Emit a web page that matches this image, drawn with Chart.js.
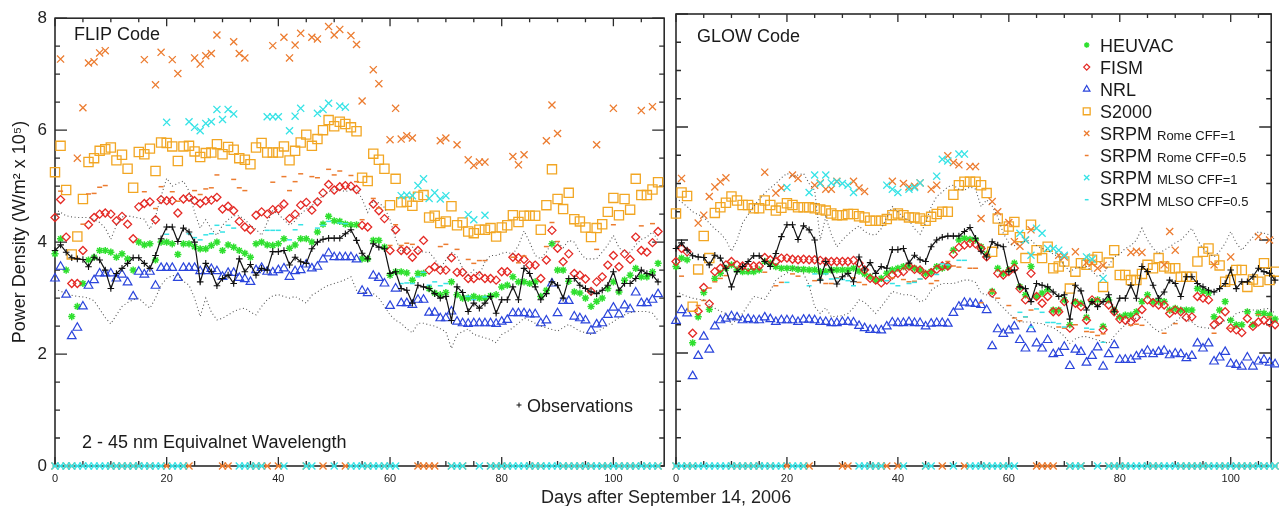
<!DOCTYPE html>
<html>
<head>
<meta charset="utf-8">
<script src="https://cdn.jsdelivr.net/npm/chart.js@4.4.1/dist/chart.umd.min.js"></script>
<style>
  body { margin: 0; background: #fff; width: 1279px; height: 506px; overflow: hidden; position: relative; font-family: "Liberation Sans", Arial, sans-serif; }
  #flip { position: absolute; left: 0; top: 0; }
  #glow { position: absolute; left: 664px; top: 0; }
  .xtitle { position: absolute; left: 541px; top: 486px; font-size: 18px; line-height: 22px; color: #222; white-space: nowrap; }
</style>
</head>
<body>
<canvas id="flip" width="672" height="506"></canvas>
<canvas id="glow" width="615" height="506"></canvas>
<div class="xtitle">Days after September 14, 2006</div>
<script>
// Days 0..108, one value per day. 0 = no SRPM input that day (plotted on the axis).
const xTicks = [0, 20, 40, 60, 80, 100];
const yTicks = [0, 2, 4, 6, 8];

const obs = [
  3.85,3.95,3.82,3.72,3.70,3.69,3.56,3.73,3.68,3.50,
  3.17,3.44,3.53,3.62,3.72,3.72,3.62,3.53,3.76,4.06,
  4.27,4.27,4.01,4.25,4.18,4.00,3.29,3.62,3.47,3.22,
  3.35,3.41,3.26,3.70,3.47,3.60,3.41,3.53,3.50,3.83,
  3.83,3.85,3.59,3.73,3.65,3.62,3.88,4.00,4.05,4.07,
  4.07,4.07,4.15,4.22,4.03,3.80,3.70,3.97,3.91,3.88,
  3.44,3.47,3.17,3.14,2.91,3.23,3.20,3.17,3.08,3.00,
  3.03,2.60,3.20,3.10,2.76,2.91,2.82,2.91,3.03,2.73,
  2.97,2.97,3.20,2.97,3.53,3.44,3.20,2.97,3.08,3.29,
  3.23,3.00,3.35,3.35,3.23,3.17,3.11,3.08,3.14,3.23,
  3.47,3.14,3.26,3.26,3.35,3.50,3.44,3.41,3.29
];

// ---- FLIP panel ----
const flipUpper = [
  4.59,4.53,4.47,4.45,4.44,4.44,4.44,4.40,4.35,4.25,
  4.05,4.30,4.45,4.47,4.45,4.43,4.41,4.23,4.45,4.82,
  5.14,5.00,5.05,5.09,4.91,4.53,4.25,4.40,4.23,4.12,
  4.30,4.40,4.47,4.47,4.40,4.30,4.23,4.12,4.35,4.56,
  4.50,4.40,4.30,4.38,4.50,4.59,4.65,4.75,4.82,4.90,
  4.94,4.94,4.90,4.94,4.94,4.77,4.53,4.74,4.70,4.62,
  4.40,4.06,3.82,3.88,3.91,3.85,3.82,3.82,3.70,3.53,
  3.68,3.82,3.75,3.53,3.41,3.50,3.41,3.65,3.76,3.76,
  3.80,3.82,3.78,3.94,4.20,4.00,3.76,3.70,3.82,4.00,
  4.00,3.90,4.03,4.00,3.82,3.70,3.70,3.70,3.82,3.95,
  4.12,3.90,3.82,3.82,3.95,4.05,4.09,4.18,4.03
];
const flipLower = [
  3.17,3.12,3.09,3.05,3.03,3.02,3.00,2.95,2.80,2.65,
  2.54,2.70,2.85,2.92,2.97,3.00,2.90,2.82,3.00,3.23,
  3.35,3.40,3.41,3.30,3.23,3.00,2.67,3.00,2.75,2.61,
  2.64,2.70,2.76,2.80,2.82,2.75,2.70,2.85,2.97,3.04,
  3.06,3.03,3.00,3.03,2.97,2.91,3.05,3.11,3.18,3.23,
  3.26,3.29,3.33,3.38,3.14,3.10,3.10,3.08,3.00,2.85,
  2.70,2.60,2.55,2.45,2.38,2.55,2.55,2.52,2.50,2.45,
  2.40,2.10,2.35,2.40,2.45,2.35,2.32,2.29,2.26,2.20,
  2.35,2.40,2.47,2.55,2.64,2.60,2.55,2.50,2.47,2.44,
  2.41,2.47,2.53,2.47,2.41,2.38,2.35,2.40,2.45,2.52,
  2.58,2.65,2.70,2.74,2.76,2.76,2.76,2.73,2.60
];
const flipHeuvac = [
  3.79,4.06,3.50,2.67,2.85,3.26,3.68,3.73,3.85,3.85,
  3.82,3.73,3.79,3.70,3.50,4.00,3.95,3.97,3.68,4.00,
  4.00,3.97,3.78,3.97,3.97,3.92,3.88,3.88,3.94,4.00,
  3.85,3.95,3.91,3.85,3.80,3.73,3.97,4.00,3.95,3.94,
  3.97,4.06,3.89,3.95,4.06,4.06,4.00,4.18,4.32,4.46,
  4.38,4.37,4.32,4.31,4.31,3.70,3.70,4.03,4.03,3.91,
  3.41,3.47,3.47,3.45,3.32,3.44,3.44,3.17,3.09,3.06,
  3.10,3.29,3.06,3.00,3.00,3.03,3.00,3.00,3.04,3.06,
  3.20,3.23,3.38,3.29,3.29,3.26,3.29,3.03,3.14,3.97,
  3.50,3.50,3.30,3.11,3.09,3.00,2.85,2.94,3.00,3.17,
  3.29,3.11,3.32,3.41,3.53,3.38,3.38,3.47,3.62
];
const flipFism = [
  4.44,4.76,4.09,3.26,3.26,3.85,4.31,4.44,4.50,4.52,
  4.50,4.38,4.46,4.32,4.06,4.63,4.69,4.72,4.40,4.76,
  4.74,4.74,4.52,4.77,4.80,4.74,4.69,4.74,4.75,4.80,
  4.59,4.64,4.56,4.37,4.27,4.22,4.48,4.54,4.50,4.58,
  4.59,4.68,4.42,4.50,4.66,4.71,4.57,4.72,4.88,5.03,
  4.93,4.99,5.01,5.00,4.94,4.30,4.27,4.68,4.56,4.42,
  3.85,4.22,3.85,3.85,3.73,3.85,4.03,3.50,3.56,3.50,
  3.50,3.72,3.46,3.46,3.35,3.35,3.40,3.35,3.35,3.32,
  3.47,3.47,3.73,3.72,3.69,3.59,3.59,3.35,3.68,4.21,
  3.89,3.65,3.79,3.44,3.41,3.34,3.12,3.29,3.38,3.59,
  3.76,3.56,3.79,3.69,4.09,3.85,3.82,3.99,4.19
];
const flipNrl = [
  3.35,3.56,3.06,2.32,2.47,2.85,3.22,3.32,3.44,3.44,
  3.44,3.35,3.42,3.28,3.03,3.47,3.42,3.47,3.22,3.54,
  3.54,3.54,3.36,3.54,3.54,3.54,3.48,3.48,3.52,3.48,
  3.38,3.45,3.45,3.36,3.34,3.29,3.50,3.54,3.47,3.46,
  3.50,3.53,3.38,3.48,3.50,3.60,3.53,3.56,3.69,3.80,
  3.73,3.73,3.73,3.73,3.69,3.13,3.09,3.40,3.36,3.26,
  2.86,3.17,2.91,2.91,2.88,2.97,2.97,2.74,2.74,2.64,
  2.64,2.76,2.58,2.55,2.54,2.55,2.55,2.55,2.55,2.54,
  2.58,2.61,2.73,2.73,2.73,2.71,2.71,2.55,2.60,3.26,
  2.73,2.95,2.95,2.67,2.64,2.60,2.42,2.53,2.55,2.70,
  2.83,2.71,2.87,2.80,3.10,2.91,2.91,2.97,3.07
];
const flipS2000 = [
  5.25,5.72,4.93,3.78,4.10,4.77,5.43,5.50,5.63,5.66,
  5.69,5.46,5.56,5.31,4.97,5.61,5.57,5.67,5.27,5.78,
  5.77,5.71,5.45,5.71,5.72,5.62,5.52,5.59,5.60,5.75,
  5.57,5.70,5.65,5.50,5.47,5.39,5.69,5.77,5.60,5.60,
  5.60,5.71,5.46,5.63,5.78,5.92,5.72,5.84,6.00,6.18,
  6.07,6.15,6.11,6.05,5.98,5.15,5.09,5.58,5.47,5.31,
  4.66,5.13,4.71,4.72,4.65,4.81,4.84,4.44,4.47,4.34,
  4.37,4.64,4.30,4.35,4.19,4.16,4.22,4.22,4.25,4.10,
  4.26,4.30,4.48,4.36,4.47,4.47,4.47,4.22,4.66,5.30,
  4.77,4.59,4.88,4.41,4.37,4.26,4.09,4.25,4.32,4.54,
  4.79,4.48,4.77,4.58,5.13,4.84,4.84,4.94,5.07
];
const flipRome1 = [
  0,7.27,0,0,5.50,6.40,7.20,7.22,7.38,7.42,
  0,0,0,0,0,0,7.26,0,6.81,7.39,
  0,7.26,7.01,0,0,7.29,7.18,7.33,7.37,7.70,
  0,0,7.58,7.37,7.29,0,0,0,0,7.51,
  0,7.66,7.29,7.52,7.73,0,7.66,7.63,0,7.85,
  7.70,7.80,0,7.69,7.53,6.52,0,7.08,6.83,0,
  5.83,6.39,5.84,5.90,5.86,0,0,0,0,5.81,
  5.86,0,5.74,0,5.47,5.37,5.43,5.43,0,0,
  0,0,5.53,5.38,5.56,0,0,0,5.81,6.45,
  5.94,0,0,0,0,0,0,5.74,0,0,
  6.39,0,0,0,0,6.35,0,6.42,0
];
const flipRome05 = [
  0,4.91,0,0,3.71,4.32,4.86,4.87,4.98,5.01,
  0,0,0,0,0,0,4.90,0,4.60,4.99,
  0,4.90,4.73,0,0,4.92,4.85,4.95,4.97,5.20,
  0,0,5.12,4.97,4.92,0,0,0,0,5.07,
  0,5.17,4.92,5.08,5.22,0,5.17,5.15,0,5.30,
  5.20,5.27,0,5.19,5.08,4.40,0,4.78,4.61,0,
  3.94,4.31,3.94,3.98,3.96,0,0,0,0,3.92,
  3.96,0,3.87,0,3.69,3.62,3.67,3.67,0,0,
  0,0,3.73,3.63,3.75,0,0,0,3.92,4.35,
  4.01,0,0,0,0,0,0,3.87,0,0,
  4.31,0,0,0,0,4.29,0,4.33,0
];
const flipMlso1 = [
  0,0,0,0,0,0,0,0,0,0,
  0,0,0,0,0,0,0,0,0,0,
  6.14,0,0,0,6.15,6.05,5.99,6.12,6.15,6.37,
  6.19,6.37,6.29,0,0,0,0,0,6.24,6.24,
  6.24,0,5.99,6.25,6.39,0,0,6.30,6.37,6.48,
  0,6.43,6.41,0,0,0,0,0,0,0,
  0,0,4.83,4.84,4.83,5.01,5.13,4.78,4.88,4.77,
  4.83,0,0,0,4.49,4.40,0,4.48,0,0,
  0,0,0,0,0,0,0,0,0,0,
  0,0,0,0,0,0,0,0,0,0,
  0,0,0,0,0,0,0,0,0
];
const flipMlso05 = [
  0,0,0,0,0,0,0,0,0,0,
  0,0,0,0,0,0,0,0,0,0,
  4.14,0,0,0,4.15,4.08,4.04,4.13,4.15,4.30,
  4.18,4.30,4.25,0,0,0,0,0,4.21,4.21,
  4.21,0,4.04,4.22,4.31,0,0,4.25,4.30,4.37,
  0,4.34,4.33,0,0,0,0,0,0,0,
  0,0,3.26,3.27,3.26,3.38,3.46,3.23,3.29,3.22,
  3.26,0,0,0,3.03,2.97,0,3.02,0,0,
  0,0,0,0,0,0,0,0,0,0,
  0,0,0,0,0,0,0,0,0,0,
  0,0,0,0,0,0,0,0,0
];

// ---- GLOW panel ----
const glowUpper = [
  4.74,4.67,4.59,4.50,4.45,4.40,4.30,4.20,4.12,4.00,
  3.80,4.00,4.30,4.45,4.60,4.72,4.83,4.92,5.00,5.10,
  5.18,5.12,5.15,5.18,5.00,4.88,4.00,4.41,4.10,3.88,
  4.00,4.10,4.18,4.25,4.15,4.10,4.09,4.20,4.40,4.59,
  4.50,4.40,4.35,4.20,4.10,4.30,4.59,4.77,4.85,4.94,
  4.97,4.90,4.88,4.94,4.90,4.59,4.71,4.60,4.41,4.12,
  3.95,3.90,3.95,3.98,4.00,3.90,3.85,3.82,3.75,3.70,
  3.55,3.44,3.50,3.52,3.53,3.45,3.35,3.40,3.55,3.70,
  3.75,3.85,3.90,4.00,4.21,4.00,3.85,3.76,3.82,3.88,
  3.95,4.00,4.10,4.21,4.00,3.85,3.76,3.70,3.80,3.94,
  4.15,3.95,3.82,3.94,4.05,4.15,4.12,4.09,4.00
];
const glowLower = [
  3.09,3.04,3.00,2.97,2.95,2.94,2.85,2.79,2.74,2.70,
  2.50,2.60,2.70,2.85,3.00,2.98,2.95,3.10,3.29,3.36,
  3.41,3.50,3.53,3.40,3.20,2.82,2.70,2.80,2.64,2.65,
  2.66,2.70,2.80,2.94,2.90,2.80,2.70,2.82,2.95,3.09,
  3.06,3.03,3.03,3.00,2.90,2.95,3.11,3.18,3.23,3.23,
  3.23,3.26,3.29,3.29,3.25,3.06,3.03,3.00,2.90,2.80,
  2.70,2.62,2.55,2.55,2.55,2.53,2.52,2.48,2.45,2.38,
  2.30,2.17,2.25,2.29,2.29,2.26,2.23,2.20,2.17,2.30,
  2.41,2.50,2.58,2.62,2.64,2.55,2.45,2.38,2.42,2.47,
  2.55,2.64,2.58,2.55,2.47,2.45,2.44,2.44,2.50,2.58,
  2.60,2.70,2.73,2.76,2.76,2.76,2.78,2.79,2.70
];
const glowHeuvac = [
  3.53,3.68,3.65,2.18,2.64,3.07,2.77,3.32,3.41,3.50,
  3.56,3.47,3.44,3.44,3.44,3.47,3.62,3.59,3.53,3.50,
  3.50,3.50,3.48,3.48,3.47,3.47,3.44,3.44,3.47,3.47,
  3.47,3.47,3.50,3.45,3.40,3.35,3.29,3.32,3.41,3.47,
  3.50,3.53,3.53,3.50,3.47,3.41,3.44,3.53,3.50,3.53,
  3.82,4.00,4.03,4.01,4.00,3.88,3.75,3.09,3.50,3.41,
  3.47,3.59,3.17,3.03,3.53,3.00,3.06,3.12,2.76,2.76,
  2.94,2.50,2.91,2.88,2.63,2.91,2.94,2.47,2.94,2.76,
  2.64,2.67,2.67,2.73,2.91,3.03,2.91,2.91,2.91,2.76,
  2.79,2.76,2.76,2.76,3.14,3.09,3.06,2.64,2.76,2.91,
  2.58,2.50,2.50,2.73,2.50,2.70,2.70,2.67,2.60
];
const glowFism = [
  3.62,3.85,3.79,2.35,2.74,3.16,2.87,3.44,3.50,3.56,
  3.62,3.56,3.54,3.52,3.54,3.54,3.69,3.65,3.62,3.68,
  3.68,3.66,3.65,3.66,3.65,3.65,3.64,3.62,3.62,3.62,
  3.62,3.62,3.64,3.59,3.47,3.32,3.29,3.24,3.29,3.38,
  3.41,3.44,3.54,3.48,3.47,3.38,3.42,3.48,3.54,3.54,
  3.75,3.87,3.91,3.94,3.93,3.85,3.70,3.06,3.41,3.38,
  3.44,3.50,3.14,2.94,3.41,3.00,2.88,3.00,2.73,2.73,
  2.91,2.44,2.88,2.82,2.58,2.94,2.90,2.41,2.85,2.73,
  2.60,2.58,2.55,2.63,2.77,2.94,2.89,2.85,2.85,2.70,
  2.76,2.73,2.63,2.64,3.00,2.97,2.94,2.50,2.58,2.73,
  2.44,2.41,2.36,2.61,2.47,2.55,2.58,2.54,2.50
];
const glowNrl = [
  2.57,2.76,2.70,1.59,1.95,2.29,2.06,2.47,2.58,2.61,
  2.65,2.63,2.58,2.60,2.58,2.58,2.63,2.60,2.55,2.58,
  2.58,2.58,2.55,2.59,2.59,2.58,2.55,2.55,2.53,2.53,
  2.55,2.55,2.54,2.48,2.44,2.41,2.41,2.40,2.47,2.54,
  2.53,2.53,2.55,2.53,2.53,2.47,2.52,2.53,2.53,2.52,
  2.71,2.82,2.89,2.88,2.87,2.85,2.76,2.12,2.42,2.34,
  2.40,2.47,2.23,2.08,2.42,2.17,2.08,2.23,1.98,2.00,
  2.11,1.77,2.06,2.02,1.83,1.95,2.10,1.76,1.98,2.14,
  1.88,1.88,1.88,1.94,1.98,2.04,1.98,2.02,2.04,1.96,
  1.99,1.98,1.91,1.95,2.17,2.08,2.17,1.85,1.92,2.02,
  1.81,1.79,1.76,1.92,1.76,1.85,1.88,1.83,1.80
];
const glowS2000 = [
  4.47,4.84,4.78,2.82,3.48,4.07,3.68,4.48,4.58,4.66,
  4.77,4.70,4.62,4.62,4.56,4.56,4.70,4.62,4.52,4.57,
  4.65,4.62,4.58,4.58,4.58,4.56,4.54,4.52,4.47,4.44,
  4.44,4.46,4.46,4.42,4.40,4.34,4.34,4.34,4.37,4.44,
  4.47,4.44,4.40,4.40,4.38,4.34,4.41,4.46,4.50,4.50,
  4.80,4.97,5.03,5.03,5.03,4.97,4.83,3.79,4.38,4.18,
  4.24,4.32,4.05,3.68,4.27,3.82,3.68,3.88,3.50,3.53,
  3.62,3.14,3.44,3.59,3.56,3.65,3.70,3.17,3.60,3.82,
  3.38,3.38,3.29,3.29,3.40,3.56,3.50,3.68,3.53,3.50,
  3.50,3.35,3.35,3.35,3.62,3.79,3.85,3.65,3.55,3.26,
  3.29,3.47,3.47,3.17,3.30,3.26,3.59,3.29,3.44
];
const glowRome1 = [
  0,5.09,0,0,4.30,4.44,4.77,4.94,5.03,5.10,
  0,0,0,0,0,0,5.20,0,4.83,4.92,
  0,5.15,5.09,0,0,4.97,5.01,4.90,4.90,5.04,
  0,0,5.04,4.92,4.86,0,0,0,0,5.04,
  0,5.00,4.94,4.95,5.01,0,4.90,4.97,0,5.49,
  5.37,5.33,0,5.30,5.30,4.38,0,4.68,4.50,0,
  4.31,3.97,3.89,4.00,4.18,0,0,0,0,3.73,
  3.70,0,3.79,0,3.60,3.59,3.50,3.55,0,0,
  0,0,3.78,3.80,3.78,0,0,0,3.56,4.15,
  3.82,0,0,0,0,0,0,3.56,0,0,
  3.70,0,0,0,0,4.06,0,4.00,0
];
const glowRome05 = [
  0,3.36,0,0,2.84,2.93,3.15,3.26,3.32,3.37,
  0,0,0,0,0,0,3.43,0,3.19,3.25,
  0,3.40,3.36,0,0,3.28,3.31,3.23,3.23,3.33,
  0,0,3.33,3.25,3.21,0,0,0,0,3.33,
  0,3.30,3.26,3.27,3.31,0,3.23,3.28,0,3.62,
  3.54,3.52,0,3.50,3.50,2.89,0,3.09,2.97,0,
  2.84,2.62,2.57,2.64,2.76,0,0,0,0,2.46,
  2.44,0,2.50,0,2.38,2.37,2.31,2.34,0,0,
  0,0,2.49,2.51,2.49,0,0,0,2.35,2.74,
  2.52,0,0,0,0,0,0,2.35,0,0,
  2.44,0,0,0,0,2.68,0,2.64,0
];
const glowMlso1 = [
  0,0,0,0,0,0,0,0,0,0,
  0,0,0,0,0,0,0,0,0,0,
  4.93,0,0,0,4.84,5.15,5.00,5.15,5.01,5.03,
  5.00,4.97,4.84,0,0,0,0,0,4.97,4.90,
  4.84,0,4.90,4.93,5.01,0,0,5.13,5.43,5.40,
  0,5.52,5.52,0,0,0,0,0,0,0,
  0,0,4.12,4.00,3.73,4.21,4.12,3.85,3.85,3.82,
  3.73,0,0,0,3.70,3.66,0,3.32,0,0,
  0,0,0,0,0,0,0,0,0,0,
  0,0,0,0,0,0,0,0,0,0,
  0,0,0,0,0,0,0,0,0
];
const glowMlso05 = [
  0,0,0,0,0,0,0,0,0,0,
  0,0,0,0,0,0,0,0,0,0,
  3.25,0,0,0,3.19,3.40,3.30,3.40,3.31,3.32,
  3.30,3.28,3.19,0,0,0,0,0,3.28,3.23,
  3.19,0,3.23,3.25,3.31,0,0,3.39,3.58,3.56,
  0,3.64,3.64,0,0,0,0,0,0,0,
  0,0,2.72,2.64,2.46,2.78,2.72,2.54,2.54,2.52,
  2.46,0,0,0,2.44,2.42,0,2.19,0,0,
  0,0,0,0,0,0,0,0,0,0,
  0,0,0,0,0,0,0,0,0,0,
  0,0,0,0,0,0,0,0,0
];

Chart.defaults.font.family = '"Liberation Sans", Arial, sans-serif';
Chart.defaults.color = '#222';

const green = '#2fe02f', red = '#e42a25', blue = '#2b45dc', gold = '#f2a623', orange = '#ec7c30', cyan = '#37e3e6';
const styles = {
  heuvac: { pointStyle: 'star', pointRadius: 3.6, pointBorderWidth: 1.5, color: green },
  fism: { pointStyle: 'rectRot', pointRadius: 4, pointBorderWidth: 1.3, color: red },
  nrl: { pointStyle: 'triangle', pointRadius: 5, pointBorderWidth: 1.2, color: blue },
  s2000: { pointStyle: 'rect', pointRadius: 6.5, pointBorderWidth: 1.3, color: gold },
  rome1: { pointStyle: 'crossRot', pointRadius: 5, pointBorderWidth: 1.3, color: orange },
  rome05: { pointStyle: 'line', pointRadius: 2.5, pointBorderWidth: 1.5, color: orange },
  mlso1: { pointStyle: 'crossRot', pointRadius: 5, pointBorderWidth: 1.3, color: cyan },
  mlso05: { pointStyle: 'line', pointRadius: 2.5, pointBorderWidth: 1.5, color: cyan }
};

const toPoints = (vals) => vals.map((v, i) => ({ x: i, y: v }));

function markerSet(label, vals, st, order) {
  return {
    label,
    data: toPoints(vals),
    showLine: false,
    order,
    clip: false,
    pointStyle: st.pointStyle,
    pointRadius: st.pointRadius,
    pointBorderWidth: st.pointBorderWidth,
    pointBorderColor: st.color,
    pointBackgroundColor: 'rgba(0,0,0,0)',
    borderColor: st.color
  };
}

function dotted(label, vals) {
  return {
    label, data: toPoints(vals), order: 1, clip: false,
    borderColor: '#555', borderWidth: 1.1, borderDash: [1, 2.6], pointRadius: 0, tension: 0
  };
}

function panelSets(p) {
  return [
    {
      label: 'Observations', data: toPoints(obs), order: 0, clip: false,
      borderColor: '#111', borderWidth: 1.2, tension: 0,
      pointStyle: 'cross', pointRadius: 3.3, pointBorderWidth: 1.1, pointBorderColor: '#111'
    },
    dotted('upper', p.upper),
    dotted('lower', p.lower),
    markerSet('SRPM MLSO CFF=0.5', p.mlso05, styles.mlso05, 2),
    markerSet('SRPM MLSO CFF=1', p.mlso1, styles.mlso1, 3),
    markerSet('SRPM Rome CFF=0.5', p.rome05, styles.rome05, 4),
    markerSet('SRPM Rome CFF=1', p.rome1, styles.rome1, 5),
    markerSet('S2000', p.s2000, styles.s2000, 6),
    markerSet('NRL', p.nrl, styles.nrl, 7),
    markerSet('FISM', p.fism, styles.fism, 8),
    markerSet('HEUVAC', p.heuvac, styles.heuvac, 9)
  ];
}

const legendRows = [
  ['HEUVAC', '', 'heuvac'], ['FISM', '', 'fism'], ['NRL', '', 'nrl'], ['S2000', '', 's2000'],
  ['SRPM', 'Rome CFF=1', 'rome1'], ['SRPM', 'Rome CFF=0.5', 'rome05'],
  ['SRPM', 'MLSO CFF=1', 'mlso1'], ['SRPM', 'MLSO CFF=0.5', 'mlso05']
];

// frame with inward ticks, IDL style
const decor = {
  id: 'decor',
  beforeDatasetsDraw(chart) {
    const { ctx, chartArea: a, scales: { x, y } } = chart;
    ctx.save();
    ctx.strokeStyle = '#2b2b2b';
    ctx.lineWidth = 1.6;
    ctx.strokeRect(a.left, a.top, a.right - a.left, a.bottom - a.top);
    ctx.lineWidth = 1.3;
    ctx.beginPath();
    for (let v = 0; v <= x.max; v += 5) {
      const px = x.getPixelForValue(v);
      const big = v % 20 === 0;
      ctx.moveTo(px, a.bottom); ctx.lineTo(px, a.bottom - (big ? 9 : 5));
      ctx.moveTo(px, a.top); ctx.lineTo(px, a.top + (big ? 8 : 4));
    }
    for (let v = 0; v <= 8; v += 0.5) {
      const py = y.getPixelForValue(v);
      const len = v % 2 === 0 ? 12 : 5;
      ctx.moveTo(a.left, py); ctx.lineTo(a.left + len, py);
      ctx.moveTo(a.right, py); ctx.lineTo(a.right - len, py);
    }
    ctx.stroke();
    ctx.restore();
  },
  afterDraw(chart, args, opts) {
    const ctx = chart.ctx;
    ctx.save();
    ctx.fillStyle = '#1a1a1a';
    ctx.textBaseline = 'alphabetic';
    (opts.texts || []).forEach((t) => {
      ctx.font = t.size + 'px "Liberation Sans", Arial, sans-serif';
      ctx.fillText(t.text, t.x, t.y);
    });
    if (opts.plus) {
      ctx.strokeStyle = '#111';
      ctx.lineWidth = 1;
      Chart.helpers.drawPoint(ctx, { pointStyle: 'cross', radius: 2.5, borderWidth: 1 }, opts.plus[0], opts.plus[1]);
    }
    if (opts.yTitle) {
      ctx.save();
      ctx.translate(opts.yTitle[0], opts.yTitle[1]);
      ctx.rotate(-Math.PI / 2);
      ctx.textAlign = 'center';
      ctx.textBaseline = 'middle';
      ctx.font = '18px "Liberation Sans", Arial, sans-serif';
      ctx.fillText('Power Density (W/m² x 10⁵)', 0, 0);
      ctx.restore();
    }
    if (opts.legend) {
      const [mx, tx, y0, dy] = opts.legend;
      legendRows.forEach((row, i) => {
        const cy = y0 + i * dy;
        const st = styles[row[2]];
        ctx.strokeStyle = st.color;
        ctx.fillStyle = 'rgba(0,0,0,0)';
        ctx.lineWidth = st.pointBorderWidth;
        Chart.helpers.drawPoint(ctx, { pointStyle: st.pointStyle, radius: st.pointRadius * 0.75, borderWidth: st.pointBorderWidth }, mx, cy);
        ctx.fillStyle = '#1a1a1a';
        ctx.font = '18px "Liberation Sans", Arial, sans-serif';
        ctx.fillText(row[0], tx, cy + 6.5);
        if (row[1]) {
          const w = ctx.measureText(row[0] + ' ').width;
          ctx.font = '13px "Liberation Sans", Arial, sans-serif';
          ctx.fillText(row[1], tx + w, cy + 6.5);
        }
      });
    }
    ctx.restore();
  }
};

function makeChart(id, sets, xMax, yAxis, padding, decorOpts) {
  return new Chart(document.getElementById(id), {
    type: 'line',
    data: { datasets: sets },
    plugins: [decor],
    options: {
      responsive: false,
      animation: false,
      events: [],
      layout: { padding },
      plugins: { legend: { display: false }, tooltip: { enabled: false }, decor: decorOpts },
      scales: {
        x: {
          type: 'linear', min: 0, max: xMax,
          afterBuildTicks: (s) => { s.ticks = xTicks.map((v) => ({ value: v })); },
          afterFit: (s) => { s.height = 40; },
          grid: { display: false, drawTicks: false },
          border: { display: false },
          ticks: { padding: 6, font: { size: 11 }, maxRotation: 0, color: '#222' }
        },
        y: yAxis
      }
    }
  });
}

makeChart('flip', panelSets({
  upper: flipUpper, lower: flipLower, heuvac: flipHeuvac, fism: flipFism, nrl: flipNrl,
  s2000: flipS2000, rome1: flipRome1, rome05: flipRome05, mlso1: flipMlso1, mlso05: flipMlso05
}), 109.1, {
  min: 0, max: 8,
  afterBuildTicks: (s) => { s.ticks = yTicks.map((v) => ({ value: v })); },
  afterFit: (s) => { s.width = 55; },
  grid: { display: false, drawTicks: false },
  border: { display: false },
  ticks: { padding: 8, font: { size: 17 }, color: '#222' }
}, { top: 14, right: 5, left: 0, bottom: 0 }, {
  texts: [
    { text: 'FLIP Code', x: 74, y: 39.5, size: 18 },
    { text: '2 - 45 nm Equivalnet Wavelength', x: 82, y: 448, size: 18 },
    { text: 'Observations', x: 527, y: 411.5, size: 18 }
  ],
  plus: [519, 405],
  yTitle: [20, 232]
});

makeChart('glow', panelSets({
  upper: glowUpper, lower: glowLower, heuvac: glowHeuvac, fism: glowFism, nrl: glowNrl,
  s2000: glowS2000, rome1: glowRome1, rome05: glowRome05, mlso1: glowMlso1, mlso05: glowMlso05
}), 107.3, {
  min: 0, max: 8,
  afterBuildTicks: (s) => { s.ticks = yTicks.map((v) => ({ value: v })); },
  afterFit: (s) => { s.width = 12; },
  grid: { display: false, drawTicks: false },
  border: { display: false },
  ticks: { display: false }
}, { top: 14, right: 1, left: 0, bottom: 0 }, {
  texts: [{ text: 'GLOW Code', x: 33, y: 41.5, size: 18 }],
  legend: [422.7, 436, 45, 22.1]
});
</script>
</body>
</html>
